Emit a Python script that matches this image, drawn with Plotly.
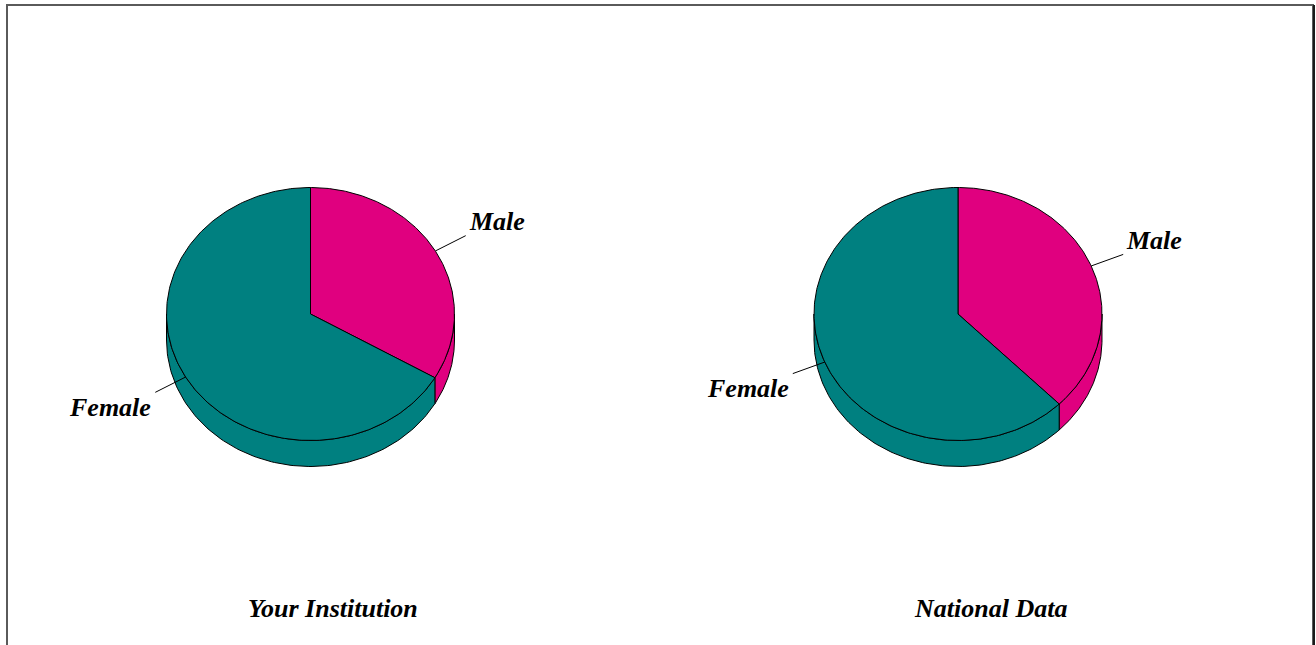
import numpy as np
import plotly.graph_objects as go

# ---- data ----
categories = ["Male", "Female"]
institution_values = [33.4, 66.6]
national_values = [37.6, 62.4]
panel_titles = ["Your Institution", "National Data"]
slice_colors = ["#E0007F", "#008080"]

# ---- geometry (pixel space) ----
W, H = 1316, 645
centers_x = [310.5, 958.0]
center_y = 314.0
rx, ry = 144.0, 126.5
depth = 26.0
title_y = 608
FONT = dict(family="Liberation Serif, Times New Roman, serif", size=26,
            color="black", weight="bold", style="italic")


def pt(cx, th, dy=0.0):
    r = np.radians(th)
    return cx + rx * np.sin(r), center_y - ry * np.cos(r) + dy


fig = go.Figure()
annotations = []

for cx, values, title in zip(centers_x, [institution_values, national_values], panel_titles):
    total = float(sum(values))
    bounds = np.concatenate([[0.0], np.cumsum(values) / total * 360.0])
    # side walls (visible front half: 90..270 deg)
    for i, col in enumerate(slice_colors):
        a, b = bounds[i], bounds[i + 1]
        lo, hi = max(a, 90.0), min(b, 270.0)
        if lo < hi:
            t = np.linspace(lo, hi, 120)
            xt, yt = pt(cx, t)
            xb, yb = pt(cx, t[::-1], depth)
            xs = np.concatenate([xt, xb, xt[:1]])
            ys = np.concatenate([yt, yb, yt[:1]])
            fig.add_trace(go.Scatter(x=xs, y=ys, mode="lines", fill="toself",
                                     fillcolor=col, line=dict(color="black", width=1),
                                     hoverinfo="skip", showlegend=False))
    # top faces
    for i, col in enumerate(slice_colors):
        a, b = bounds[i], bounds[i + 1]
        t = np.linspace(a, b, 240)
        xa, ya = pt(cx, t)
        xs = np.concatenate([[cx], xa, [cx]])
        ys = np.concatenate([[center_y], ya, [center_y]])
        fig.add_trace(go.Scatter(x=xs, y=ys, mode="lines", fill="toself",
                                 fillcolor=col, line=dict(color="black", width=1),
                                 name=categories[i], hoverinfo="name", showlegend=False))
    # leader lines + labels
    for i, lab in enumerate(categories):
        mid = (bounds[i] + bounds[i + 1]) / 2.0
        x0, y0 = pt(cx, mid)
        dx, dy = np.sin(np.radians(mid)), -np.cos(np.radians(mid)) * ry / rx
        n = np.hypot(dx, dy)
        x1, y1 = x0 + 34 * dx / n, y0 + 34 * dy / n
        fig.add_trace(go.Scatter(x=[x0, x1], y=[y0, y1], mode="lines",
                                 line=dict(color="black", width=1),
                                 hoverinfo="skip", showlegend=False))
        right = dx > 0
        annotations.append(dict(x=x1 + (1 if right else -2), y=y1 + (-14 if right else 15),
                                text=lab, showarrow=False,
                                xanchor="left" if right else "right", yanchor="middle",
                                font=FONT))
    annotations.append(dict(x=cx + 22 + (10 if cx > 600 else 0), y=title_y, text=title,
                            showarrow=False, xanchor="center", yanchor="middle", font=FONT))

fig.update_layout(
    width=W, height=H, margin=dict(l=0, r=0, t=0, b=0),
    paper_bgcolor="white", plot_bgcolor="white",
    xaxis=dict(range=[0, W], visible=False, fixedrange=True),
    yaxis=dict(range=[H, 0], visible=False, fixedrange=True),
    annotations=annotations,
    shapes=[
        dict(type="rect", xref="x", yref="y", x0=7, y0=5, x1=1313, y1=H + 20,
             line=dict(color="#5a5a5a", width=2)),
        dict(type="line", xref="x", yref="y", x0=1314, y0=5, x1=1314, y1=H + 20,
             line=dict(color="#1a1a1a", width=2)),
    ],
)

fig.write_html("out.html", config={"displayModeBar": False},
               post_script="document.body.style.margin='0';document.body.style.overflow='hidden';")
